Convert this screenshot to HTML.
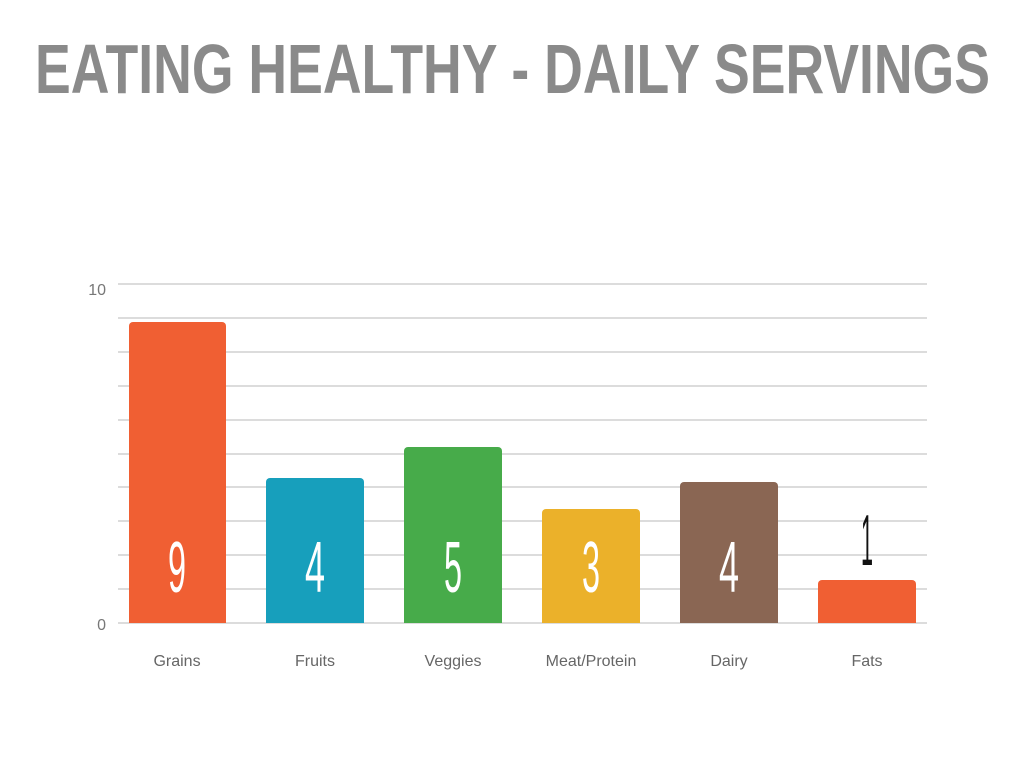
<!DOCTYPE html>
<html><head><meta charset="utf-8"><style>html,body{margin:0;padding:0;background:#fff;}svg{display:block}</style></head>
<body>
<svg width="1024" height="768" viewBox="0 0 1024 768" xmlns="http://www.w3.org/2000/svg" font-family="Liberation Sans, sans-serif">
<text x="35" y="93" font-size="70" font-weight="bold" fill="#8a8a8a" textLength="955" lengthAdjust="spacingAndGlyphs">EATING HEALTHY - DAILY SERVINGS</text>
<g stroke="#dcdcdc" stroke-width="2">
<line x1="118" x2="927" y1="284" y2="284"/><line x1="118" x2="927" y1="318" y2="318"/>
<line x1="118" x2="927" y1="352" y2="352"/><line x1="118" x2="927" y1="386" y2="386"/>
<line x1="118" x2="927" y1="420" y2="420"/><line x1="118" x2="927" y1="454" y2="454"/>
<line x1="118" x2="927" y1="487" y2="487"/><line x1="118" x2="927" y1="521" y2="521"/>
<line x1="118" x2="927" y1="555" y2="555"/><line x1="118" x2="927" y1="589" y2="589"/>
<line x1="118" x2="927" y1="623" y2="623"/>
</g>
<g font-size="16" fill="#777" text-anchor="end">
<text x="106" y="295">10</text><text x="106" y="630">0</text>
</g>
<path d="M129 623V326a4 4 0 0 1 4-4h89a4 4 0 0 1 4 4V623z" fill="#f05f33"/>
<path d="M266 623V482a4 4 0 0 1 4-4h90a4 4 0 0 1 4 4V623z" fill="#179fbc"/>
<path d="M404 623V451a4 4 0 0 1 4-4h90a4 4 0 0 1 4 4V623z" fill="#47ab4a"/>
<path d="M542 623V513a4 4 0 0 1 4-4h90a4 4 0 0 1 4 4V623z" fill="#ebb12a"/>
<path d="M680 623V486a4 4 0 0 1 4-4h90a4 4 0 0 1 4 4V623z" fill="#8a6653"/>
<path d="M818 623V584a4 4 0 0 1 4-4h90a4 4 0 0 1 4 4V623z" fill="#f05f33"/>
<g font-size="72" fill="#fff" text-anchor="middle" font-weight="100">
<text x="177" y="592" textLength="18" lengthAdjust="spacingAndGlyphs">9</text>
<text x="315" y="592" textLength="20" lengthAdjust="spacingAndGlyphs">4</text>
<text x="453" y="592" textLength="18" lengthAdjust="spacingAndGlyphs">5</text>
<text x="591" y="592" textLength="18" lengthAdjust="spacingAndGlyphs">3</text>
<text x="729" y="592" textLength="20" lengthAdjust="spacingAndGlyphs">4</text>
<text x="867" y="565" fill="#111" textLength="12" lengthAdjust="spacingAndGlyphs">1</text>
</g>
<g font-size="16" fill="#666" text-anchor="middle">
<text x="177" y="666">Grains</text><text x="315" y="666">Fruits</text>
<text x="453" y="666">Veggies</text><text x="591" y="666">Meat/Protein</text>
<text x="729" y="666">Dairy</text><text x="867" y="666">Fats</text>
</g>
</svg>
</body></html>
